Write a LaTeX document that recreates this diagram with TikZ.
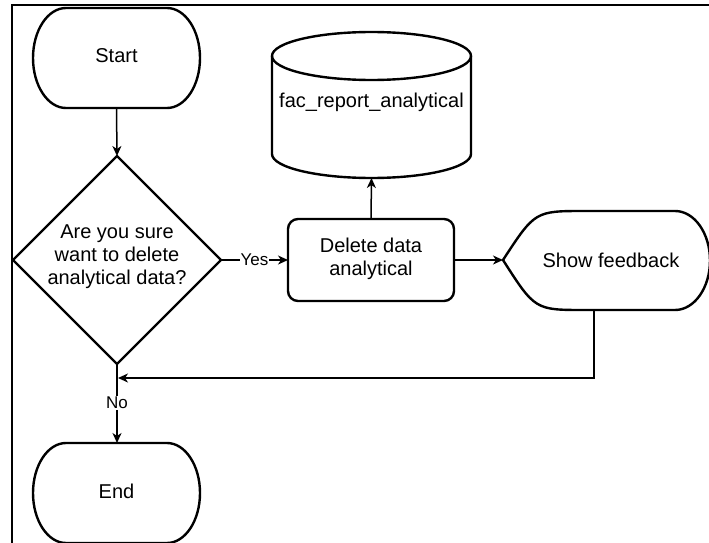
\documentclass[tikz,border=0pt]{standalone}
\usepackage{fontspec}
\setmainfont{Liberation Sans}
\usetikzlibrary{arrows.meta}
\begin{document}
\begin{tikzpicture}[x=1pt,y=-1pt,
  outline/.style={line width=2.4pt,line join=round},
  conn/.style={line width=1.5pt,-{Stealth[length=10pt,width=9pt,inset=3pt]}},
  lbl/.style={fill=white,font=\fontsize{17}{19}\selectfont,inner sep=1pt},
  txt/.style={font=\fontsize{20}{23}\selectfont,align=center,inner sep=0pt}]
\useasboundingbox (0,0) rectangle (709,543);
% frame
\draw[line width=2.2pt] (12,548) -- (12,5) -- (714,5);
% Start terminator
\draw[outline] (66,8) -- (167,8) arc[start angle=-90,end angle=90,x radius=33,y radius=50]
  -- (66,108) arc[start angle=90,end angle=270,x radius=33,y radius=50] -- cycle;
\node[txt] (start) at (116.5,56) {Start};
\coordinate (startS) at (116.5,108);
% decision diamond
\draw[outline] (117,156) -- (221,260) -- (117,364) -- (13,260) -- cycle;
\coordinate (decN) at (117,156);
\coordinate (decE) at (221,260);
\coordinate (decS) at (117,364);
\node[txt] (dec) at (117,257) {Are you sure\\want to delete\\analytical data?};
% delete box
\draw[outline,rounded corners=10pt] (288,219) rectangle (454,301);
\node[txt] (del) at (371,259) {Delete data\\analytical};
\coordinate (delW) at (288,260);
\coordinate (delE) at (454,260);
\coordinate (delN) at (371,219);
% cylinder
\draw[outline] (371.5,56) ellipse[x radius=99.5,y radius=24];
\draw[outline] (272,56) -- (272,154) arc[start angle=180,end angle=0,x radius=99.5,y radius=24] -- (471,56);
\node[txt] (db) at (371.5,102) {fac\_report\_analytical};
\coordinate (dbS) at (371.5,178);
% display
\draw[outline] (503,260) .. controls (535,211) .. (585,211) -- (675,211)
  arc[start angle=-90,end angle=90,x radius=35,y radius=49.5]
  -- (585,310) .. controls (535,310) .. (503,260) -- cycle;
\node[txt] (show) at (611,260) {Show feedback};
\coordinate (showW) at (503,260);
\coordinate (showS) at (594,310);
\coordinate (bend) at (594,378);
\coordinate (join) at (118,378);
% End terminator
\draw[outline] (66,443) -- (167,443) arc[start angle=-90,end angle=90,x radius=33,y radius=50]
  -- (66,543) arc[start angle=90,end angle=270,x radius=33,y radius=50] -- cycle;
\node[txt] (end) at (116.5,491) {End};
\coordinate (endN) at (117,443);
% connectors
\draw[conn] (startS) -- (decN);
\draw[conn] (decE) -- node[lbl,pos=0.5] {Yes} (delW);
\draw[conn] (delN) -- (dbS);
\draw[conn] (delE) -- (showW);
\draw[conn] (showS) -- (bend) -- (join);
\draw[conn] (decS) -- node[lbl,pos=0.49] {No} (endN);
\end{tikzpicture}
\end{document}
